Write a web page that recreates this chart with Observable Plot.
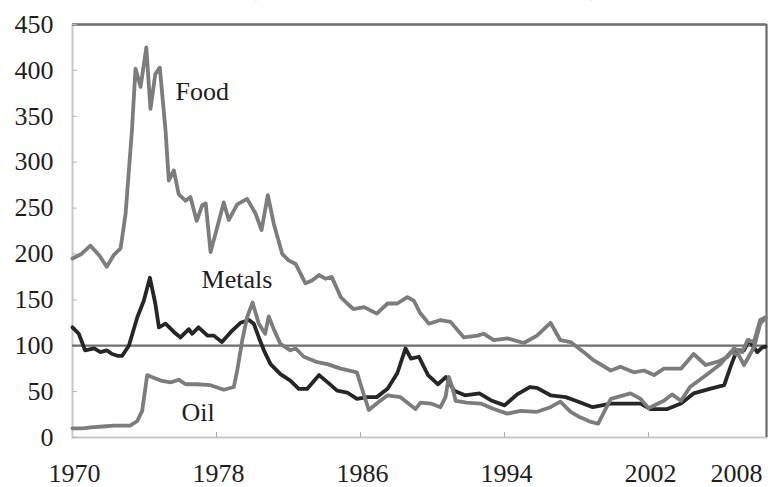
<!DOCTYPE html>
<html><head><meta charset="utf-8">
<script src="https://cdn.jsdelivr.net/npm/d3@7"></script>
<script src="https://cdn.jsdelivr.net/npm/@observablehq/plot@0.6"></script>
<style>
body{margin:0;background:#fff;}
#chart svg text{font-family:'Liberation Serif','Times New Roman',serif !important;}
</style>
</head><body><div id="chart"></div>
<script>
const foodYears = [1970.0,1970.5,1971.0,1971.5,1971.9,1972.3,1972.67,1972.95,1973.3,1973.5,1973.78,1974.1,1974.33,1974.6,1974.85,1975.17,1975.35,1975.63,1975.9,1976.28,1976.55,1976.9,1977.2,1977.4,1977.67,1978.04,1978.4,1978.68,1979.15,1979.7,1980.17,1980.5,1980.85,1981.18,1981.65,1982.0,1982.4,1982.94,1983.3,1983.7,1984.05,1984.4,1984.9,1985.26,1985.6,1986.2,1986.9,1987.5,1988.04,1988.6,1988.96,1989.3,1989.8,1990.44,1991.0,1991.74,1992.5,1992.85,1993.4,1994.15,1995.07,1995.8,1996.55,1997.1,1997.67,1998.4,1998.96,1999.9,2000.44,2001.18,2001.74,2002.3,2002.85,2003.8,2004.5,2005.17,2005.9,2006.4,2006.74,2007.2,2007.5,2007.85,2008.2,2008.5];
const foodValues = [195,200,209,198,186,199,206,244,334,402,382,425,358,396,403,334,280,291,265,258,262,236,253,255,202,229,256,237,254,260,244,226,264,233,200,193,189,168,171,177,173,175,153,146,140,142,135,146,146,153,149,136,124,128,126,109,111,113,106,108,103,111,125,106,104,93,84,73,77,71,73,68,75,75,91,79,83,88,97,93,106,104,128,131];

const metalsYears = [1970.0,1970.35,1970.7,1971.2,1971.55,1971.9,1972.2,1972.5,1972.76,1973.13,1973.6,1973.96,1974.3,1974.6,1974.8,1975.17,1975.63,1976.0,1976.46,1976.65,1977.0,1977.5,1977.85,1978.3,1978.8,1979.33,1979.8,1980.07,1980.35,1980.63,1981.0,1981.55,1982.1,1982.57,1983.04,1983.7,1984.24,1984.7,1985.26,1985.8,1986.37,1986.9,1987.5,1988.04,1988.5,1988.8,1989.24,1989.75,1990.3,1990.75,1991.2,1991.8,1992.6,1993.3,1994.0,1994.7,1995.4,1995.8,1996.55,1997.4,1998.1,1998.9,1999.9,2000.8,2001.56,2002.1,2003.04,2003.8,2004.5,2005.4,2006.2,2006.55,2006.9,2007.3,2007.57,2008.04,2008.3,2008.5];
const metalsValues = [120,113,95,97,93,95,91,89,89,100,131,149,174,146,120,124,115,109,118,113,120,111,111,104,115,125,128,124,109,95,80,69,62,53,53,68,59,51,49,42,44,44,53,70,97,86,88,68,58,66,51,46,48,40,35,47,55,54,46,44,39,33,37,37,37,31,31,37,48,53,57,77,95,95,106,93,98,99];

const oilYears = [1970.0,1970.6,1971.0,1971.7,1972.3,1973.2,1973.6,1973.87,1974.15,1974.4,1974.9,1975.44,1975.9,1976.28,1976.9,1977.67,1978.4,1978.96,1979.15,1979.43,1979.7,1980.0,1980.35,1980.7,1980.9,1981.2,1981.55,1982.1,1982.4,1982.85,1983.6,1984.15,1984.9,1985.8,1986.0,1986.46,1986.9,1987.5,1988.2,1989.05,1989.33,1989.9,1990.44,1990.72,1990.9,1991.1,1991.28,1991.9,1992.67,1993.4,1994.15,1994.9,1995.8,1996.55,1997.1,1997.67,1998.2,1998.8,1999.2,1999.9,2001.0,2001.56,2002.0,2002.85,2003.3,2003.8,2004.3,2005.26,2006.0,2006.55,2007.0,2007.3,2007.85,2008.2,2008.5];
const oilValues = [10,10,11,12,13,13,18,29,68,66,62,60,63,58,58,57,52,55,73,106,131,147,124,113,132,117,102,95,97,88,82,80,75,71,58,30,37,46,44,31,38,37,33,44,66,55,40,38,37,31,26,29,28,33,39,28,22,17,15,42,48,42,32,40,47,40,55,69,80,93,90,79,98,124,130];

const yTicks = [0,50,100,150,200,250,300,350,400,450];
const xTickYears = [1970,1978,1986,1994,2002];
const lastTickYear = [2008];
const labelNames = ["Food","Metals","Oil"];
const labelYears = [1975.72,1977.17,1976.06];
const labelValues = [377,172,27];
const referenceLevel = [100];
const titleText = "(Index of real prices, 2005 = 100)";

const toRows = (name, ys, vs) => ys.map((y, i) => ({series: name, year: y, value: vs[i]}));
const metalsRows = toRows("Metals", metalsYears, metalsValues);
const oilRows = toRows("Oil", oilYears, oilValues);
const foodRows = toRows("Food", foodYears, foodValues);
const labelRows = labelNames.map((n, i) => ({name: n, year: labelYears[i], value: labelValues[i]}));

const xDomain = [1970, 2008.55];
const yDomain = [0, 450];
const serif = "Liberation Serif";

const plot = Plot.plot({
  width: 768, height: 487,
  marginLeft: 72, marginRight: 2, marginTop: 24, marginBottom: 50,
  x: {domain: xDomain, label: null},
  y: {domain: yDomain, label: null},
  style: {fontFamily: serif, fontSize: "26px", color: "#1e1e1e", background: "#fff", overflow: "visible"},
  marks: [
    Plot.frame({stroke: "#c8c8c8", strokeWidth: 2}),
    Plot.ruleY([yDomain[1]], {stroke: "#707070", strokeWidth: 2.5}),
    Plot.ruleX([xDomain[1]], {stroke: "#6a6a6a", strokeWidth: 2}),
    Plot.axisY({ticks: yTicks, tickSize: 5, dx: 5, stroke: "#b5b5b5", tickFormat: () => "", label: null}),
    Plot.axisY({ticks: yTicks, tickSize: 0, tickPadding: 19, fontSize: 26, fontFamily: serif, tickFormat: d => String(d), label: null}),
    Plot.axisX({ticks: xTickYears.slice(1), tickSize: 5, dy: -5, stroke: "#a8a8a8", tickFormat: () => "", label: null}),
    Plot.axisX({ticks: xTickYears, tickSize: 0, tickPadding: 26, dx: 2, fontSize: 26, fontFamily: serif, tickFormat: d => String(d), label: null}),
    Plot.axisX({ticks: lastTickYear, tickSize: 0, tickPadding: 26, dx: -20, fontSize: 26, fontFamily: serif, tickFormat: d => String(d), label: null}),
    Plot.ruleY(referenceLevel, {stroke: "#6e6e6e", strokeWidth: 2.2}),
    Plot.line(metalsRows, {x: "year", y: "value", stroke: "#262626", strokeWidth: 3.8, strokeLinejoin: "round"}),
    Plot.line(oilRows, {x: "year", y: "value", stroke: "#7c7c7c", strokeWidth: 3.8, strokeLinejoin: "round"}),
    Plot.line(foodRows, {x: "year", y: "value", stroke: "#7c7c7c", strokeWidth: 3.8, strokeLinejoin: "round"}),
    Plot.text(labelRows, {x: "year", y: "value", text: "name", textAnchor: "start", fontSize: 26, fontFamily: serif, fill: "#1e1e1e"}),
    Plot.text([titleText], {frameAnchor: "top", text: d => d, dy: -30, lineAnchor: "bottom", fontSize: 26, fontFamily: serif, fill: "#1e1e1e", dx: 4})
  ]
});
document.getElementById("chart").appendChild(plot);
</script>
</body></html>
